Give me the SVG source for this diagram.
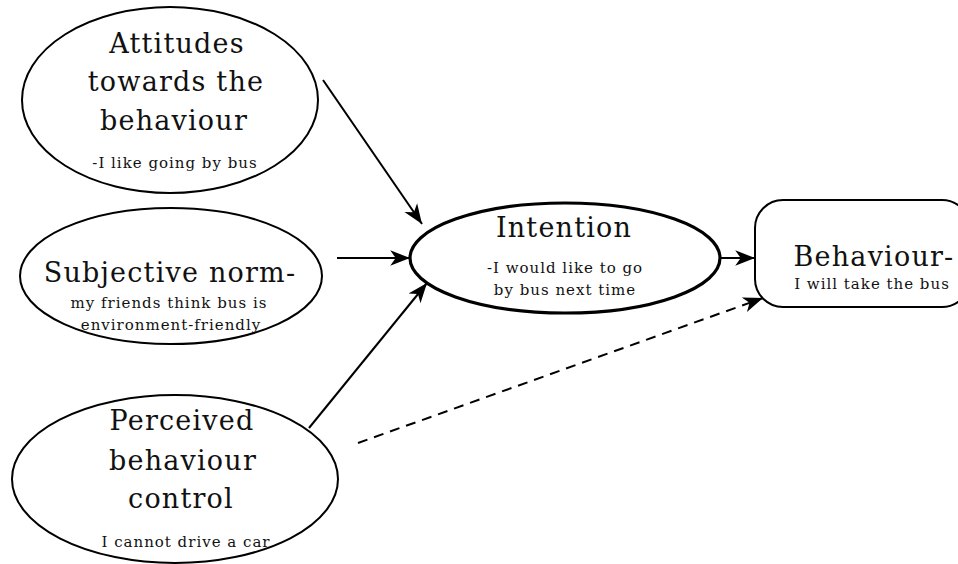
<svg xmlns="http://www.w3.org/2000/svg" width="958" height="564" viewBox="0 0 958 564">
<style>
.node{fill:#fff;stroke:#000;stroke-width:2}
text{font-family:"DejaVu Serif","Liberation Serif",serif;fill:#111;text-anchor:middle}
.big{font-size:27px;letter-spacing:1.2px}
.small{font-size:15px;letter-spacing:1px}
.edge{stroke:#000;stroke-width:2;fill:none}
</style>
<defs>
<marker id="ah" markerUnits="userSpaceOnUse" markerWidth="22" markerHeight="18" viewBox="0 -8 20 16" refX="18" refY="0" orient="auto">
<path d="M0,-7 L18,0 L0,7 L5,0 z" fill="#000"/>
</marker>
</defs>
<rect width="958" height="564" fill="#fff"/>
<g id="attitudes">
<ellipse class="node" cx="170" cy="100" rx="148" ry="93"/>
<text class="big" x="177" y="53">Attitudes</text>
<text class="big" x="176" y="91">towards the</text>
<text class="big" x="174" y="130">behaviour</text>
<text class="small" x="175" y="168">-I like going by bus</text>
</g>
<g id="subjective">
<ellipse class="node" cx="171" cy="276" rx="151" ry="68"/>
<text class="big" x="170" y="282">Subjective norm-</text>
<text class="small" x="169" y="308">my friends think bus is</text>
<text class="small" x="171" y="330">environment-friendly</text>
</g>
<g id="perceived">
<ellipse class="node" cx="175" cy="479" rx="163" ry="84"/>
<text class="big" x="182" y="430">Perceived</text>
<text class="big" x="183" y="470">behaviour</text>
<text class="big" x="181" y="508">control</text>
<text class="small" x="186" y="547">I cannot drive a car</text>
</g>
<g id="intention">
<ellipse class="node" cx="565" cy="258" rx="155" ry="55" style="stroke-width:3.2"/>
<text class="big" x="564" y="237">Intention</text>
<text class="small" x="565" y="273">-I would like to go</text>
<text class="small" x="565" y="295">by bus next time</text>
</g>
<g id="behaviour">
<rect class="node" x="755" y="200" width="215" height="107" rx="28" ry="28"/>
<text class="big" x="874" y="266">Behaviour-</text>
<text class="small" x="872" y="289">I will take the bus</text>
</g>
<g id="connectors">
<line class="edge" x1="323" y1="80" x2="422" y2="224" marker-end="url(#ah)"/>
<line class="edge" x1="337" y1="258" x2="410" y2="258" marker-end="url(#ah)"/>
<line class="edge" x1="309" y1="428" x2="427" y2="283" marker-end="url(#ah)"/>
<line class="edge" x1="720" y1="258" x2="755" y2="258" marker-end="url(#ah)"/>
<line class="edge" x1="358" y1="443" x2="763" y2="298" stroke-dasharray="10,7" marker-end="url(#ah)"/>
</g>
</svg>
